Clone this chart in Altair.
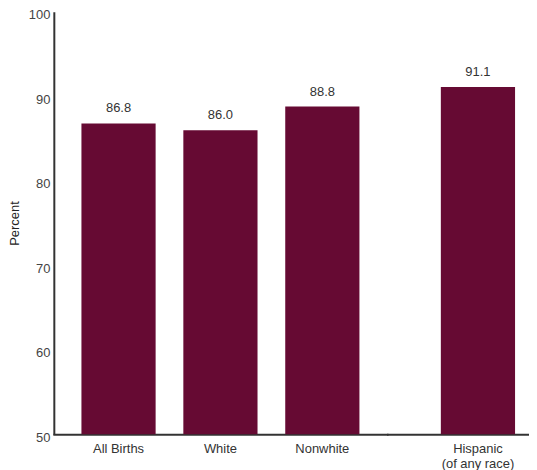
import altair as alt
import pandas as pd

left_categories = ["All Births", "White", "Nonwhite"]
left_values = [86.8, 86.0, 88.8]
right_categories = ["Hispanic\n(of any race)"]
right_values = [91.1]

y_ticks = [50, 60, 70, 80, 90, 100]
y_min, y_max = 50, 100

BAR = "#660a33"
TXT = "#333333"
FONT = "Liberation Sans"

left_df = pd.DataFrame({"group": left_categories, "pct": left_values})
right_df = pd.DataFrame({"group": right_categories, "pct": right_values})

H = 424

def panel(df, cats, width, pad_inner, pad_outer, align, show_y):
    x_axis = alt.Axis(
        title=None, labelAngle=0, ticks=False, domainColor=TXT, domainWidth=2,
        domainCap="square",
        labelColor=TXT, labelFont=FONT, labelFontSize=13, labelPadding=8,
        labelLineHeight=15, labelExpr="split(datum.label, '\\n')",
    )
    if show_y:
        y_axis = alt.Axis(
            title="Percent", values=y_ticks, ticks=False, grid=False,
            domainColor=TXT, domainWidth=2, labelColor="#444444",
            labelFont=FONT, labelFontSize=13, labelPadding=4, labelOffset=3,
            titleFont=FONT, titleFontSize=13, titleFontWeight="normal",
            titleColor="#222222", titlePadding=7,
        )
    else:
        y_axis = None
    base = alt.Chart(df).encode(
        x=alt.X("group:N", sort=cats, axis=x_axis,
                scale=alt.Scale(paddingInner=pad_inner, paddingOuter=pad_outer,
                                align=align, round=False)),
        y=alt.Y("pct:Q", axis=y_axis,
                scale=alt.Scale(domain=[y_min, y_max], nice=False, zero=False)),
    )
    bars = base.mark_bar(color=BAR).encode(y2=alt.datum(y_min))
    labels = base.mark_text(baseline="alphabetic", dy=-11, font=FONT, fontSize=13, color=TXT).encode(
        text=alt.Text("pct:Q", format=".1f")
    )
    return (bars + labels).properties(width=width, height=H)

left = panel(left_df, left_categories, 334.5, 0.272, 0.271, 0.5, True)
right = panel(right_df, right_categories, 141.5, 0.0, 0.4497, 0.7985, False)

chart = alt.hconcat(left, right, spacing=0).properties(
    padding={"left": 0, "right": 0, "top": 0, "bottom": 0},
    background="white",
).configure_view(stroke=None, strokeWidth=0)

chart.save("out.html", embed_options={"renderer": "svg", "actions": False})
